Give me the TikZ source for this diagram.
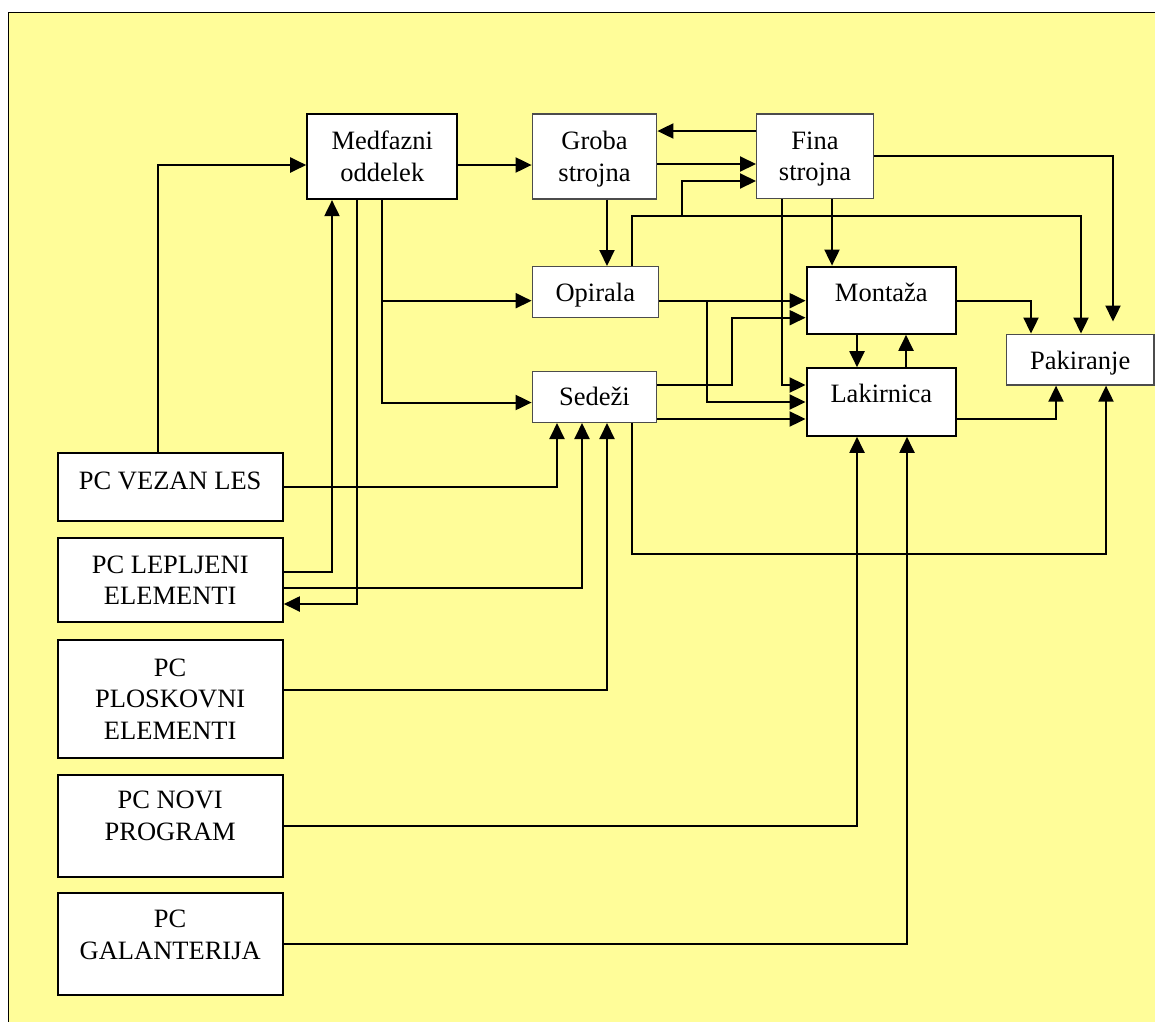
\documentclass[tikz,border=0pt]{standalone}
\usepackage{fontspec}
\setmainfont{Liberation Serif}
\usetikzlibrary{arrows.meta}
\definecolor{bgyellow}{HTML}{FFFD99}
\newcommand\tx[2]{\raisebox{#1}[\height][\depth]{\begin{tabular}{@{}c@{}}#2\end{tabular}}}
\begin{document}
\begin{tikzpicture}[x=1pt,y=-1pt,
 every node/.style={font=\fontsize{26.5}{31.5}\selectfont, inner sep=0pt},
 thickbox/.style={draw, line width=2.2pt, fill=white, rectangle},
 thinbox/.style={draw=black!70, line width=1.4pt, fill=white, rectangle},
 arr/.style={line width=2pt, -{Triangle[length=16pt,width=15pt]}}]
\useasboundingbox (0,0) rectangle (1155,1021);
\fill[white] (0,0) rectangle (1155,1021);
\clip (0,0) rectangle (1155,1021);
\draw[line width=1pt, fill=bgyellow] (8,12) rectangle (1175,1045);

% main boxes
\node[thickbox, minimum width=150pt, minimum height=85pt] (medf) at (382.3,156.5) {\tx{-2.5pt}{Medfazni\\oddelek}};
\node[thinbox, minimum width=124.4pt, minimum height=85pt] (groba) at (594.5,156.5) {\tx{-2.5pt}{Groba\\strojna}};
\node[thinbox, minimum width=116.6pt, minimum height=84.5pt] (fina) at (815,156.2) {\tx{-2.5pt}{Fina\\strojna}};
\node[thinbox, minimum width=126pt, minimum height=51pt] (opir) at (595.3,292.2) {\tx{-2.5pt}{Opirala}};
\node[thinbox, minimum width=124.4pt, minimum height=51pt] (sede) at (594.5,396.8) {\tx{-2pt}{Sedeži}};
\node[thickbox, minimum width=149.3pt, minimum height=67pt] (mont) at (881.3,300.2) {\tx{5.4pt}{Montaža}};
\node[thickbox, minimum width=149.3pt, minimum height=67.4pt] (laki) at (881.3,402) {\tx{5.5pt}{Lakirnica}};
\node[thinbox, minimum width=147.7pt, minimum height=50.7pt] (pak) at (1080.2,359.6) {\tx{-3.5pt}{Pakiranje}};

% left boxes
\node[thickbox, minimum width=225pt, minimum height=67.7pt] (vezan) at (170.2,486.9) {\tx{3.9pt}{PC VEZAN LES}};
\node[thickbox, minimum width=225pt, minimum height=84pt] (lepl) at (170.2,579.7) {\tx{-3pt}{PC LEPLJENI\\ELEMENTI}};
\node[thickbox, minimum width=225pt, minimum height=118pt] (plos) at (170.2,699) {\tx{-2.5pt}{PC\\PLOSKOVNI\\ELEMENTI}};
\node[thickbox, minimum width=225pt, minimum height=102pt] (novi) at (170.2,825.7) {\tx{7.5pt}{PC NOVI\\PROGRAM}};
\node[thickbox, minimum width=225pt, minimum height=102pt] (gal) at (170.2,944.3) {\tx{7pt}{PC\\GALANTERIJA}};

% helper coordinates
\coordinate (jA) at (382,300.7);
\coordinate (jB) at (682,216);
\coordinate (jC) at (707,300.7);

% connectors
\draw[arr] (158,0 |- vezan.north) |- (medf.west |- 0,165);
\draw[arr] (vezan.east |- 0,487) -| (557,0 |- sede.south);
\draw[arr] (lepl.east |- 0,572) -| (332,0 |- medf.south);
\draw[arr] (lepl.east |- 0,588) -| (582,0 |- sede.south);
\draw[arr] (357,0 |- medf.south) |- (lepl.east |- 0,604);
\draw[arr] (plos.east |- 0,690) -| (607,0 |- sede.south);
\draw[arr] (novi.east |- 0,826) -| (857,0 |- laki.south);
\draw[arr] (gal.east |- 0,944) -| (907,0 |- laki.south);

\draw[arr] (medf.east |- 0,165) -- (groba.west |- 0,165);
\draw[arr] (382,0 |- medf.south) |- (sede.west |- 0,402.5);
\draw[arr] (jA) -- (opir.west |- jA);

\draw[arr] (fina.west |- 0,131) -- (groba.east |- 0,131);
\draw[arr] (groba.east |- 0,164) -- (fina.west |- 0,164);
\draw[arr] (632,0 |- opir.north) |- (1081,216) -- (1081,0 |- pak.north);
\draw[arr] (jB) |- (fina.west |- 0,181);
\draw[arr] (607,0 |- groba.south) -- (607,0 |- opir.north);
\draw[arr, shorten >=12pt] (fina.east |- 0,156) -| (1113,0 |- pak.north);
\draw[arr] (832,0 |- fina.south) -- (832,0 |- mont.north);
\draw[arr] (782,0 |- fina.south) |- (laki.west |- 0,385);

\draw[arr] (opir.east |- jC) -- (mont.west |- jC);
\draw[arr] (jC) |- (laki.west |- 0,402);
\draw[arr] (sede.east |- 0,385) -| (732,317.7) -- (mont.west |- 0,317.7);
\draw[arr] (sede.east |- 0,419) -- (laki.west |- 0,419);

\draw[arr] (857,0 |- mont.south) -- (857,0 |- laki.north);
\draw[arr] (906,0 |- laki.north) -- (906,0 |- mont.south);
\draw[arr] (mont.east |- 0,300.7) -| (1031,0 |- pak.north);
\draw[arr] (laki.east |- 0,419) -| (1056,0 |- pak.south);
\draw[arr] (632,0 |- sede.south) |- (1106,554) -- (1106,0 |- pak.south);
\end{tikzpicture}
\end{document}
